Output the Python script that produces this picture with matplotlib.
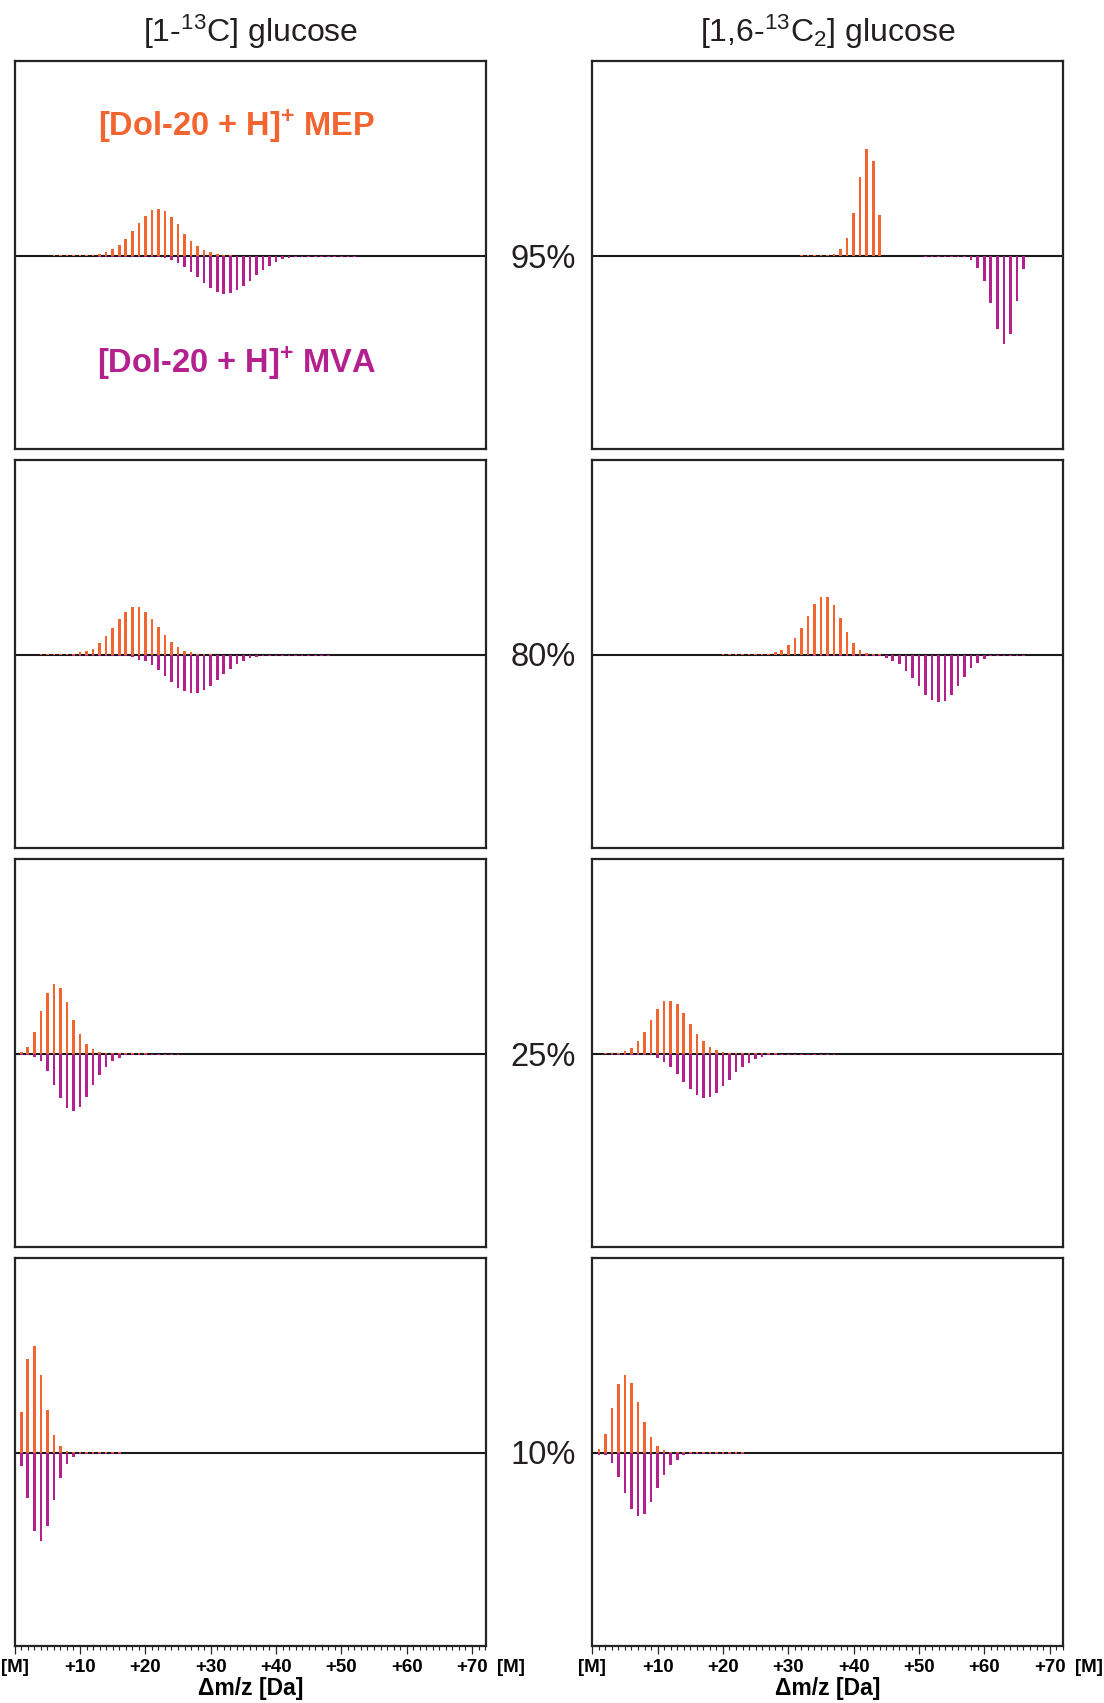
import numpy as np
import matplotlib
matplotlib.use("Agg")
import matplotlib.pyplot as plt
from matplotlib import font_manager
from matplotlib.ticker import MultipleLocator
from matplotlib.transforms import blended_transform_factory

plt.rcParams["font.family"] = ["Liberation Sans", "DejaVu Sans"]
plt.rcParams["mathtext.fontset"] = "custom"
plt.rcParams["mathtext.rm"] = "Liberation Sans"
plt.rcParams["mathtext.it"] = "Liberation Sans:italic"
plt.rcParams["mathtext.bf"] = "Liberation Sans:bold"

installed = {f.name for f in font_manager.fontManager.ttflist}
NARROW = "Liberation Sans Narrow" in installed

# ---------------------------------------------------------------------------
# Isotopologue intensities (a.u.) of [Dol-20 + H]+, upper = MEP, lower = MVA.
# Each series starts at the given Δm/z offset (Da above [M]).
# ---------------------------------------------------------------------------
columns = ["[1-$^{13}$C] glucose", "[1,6-$^{13}$C$_2$] glucose"]
enrichment = ["95%", "80%", "25%", "10%"]

# [1-13C] glucose
mep_c1_95_start = 6
mep_c1_95 = [1.0, 1.0, 1.0, 1.0, 1.0, 1.0, 1.2, 2.3, 4.0, 6.7, 10.7, 16.7, 24.7,
             33.3, 40.0, 45.7, 47.3, 45.0, 39.0, 31.7, 22.3, 15.3, 9.7, 5.7,
             3.7, 2.3, 1.2, 1.0]
mva_c1_95_start = 13
mva_c1_95 = [1.0, 1.0, 1.0, 1.0, 1.0, 1.0, 1.0, 1.0, 1.0, 1.0, 1.7, 3.7, 7.0,
             11.0, 16.0, 21.0, 26.7, 31.7, 36.0, 37.7, 37.0, 34.3, 30.0, 25.0,
             19.3, 14.3, 9.7, 6.0, 3.3, 2.0, 1.0, 1.0, 1.0, 1.0, 1.0, 1.0, 1.0,
             1.0, 1.0, 1.0]

mep_c1_80_start = 4
mep_c1_80 = [1.0, 1.0, 1.0, 1.0, 1.0, 1.2, 2.7, 3.7, 6.3, 11.7, 19.3, 27.3,
             36.3, 43.3, 48.3, 48.3, 43.3, 36.3, 28.3, 20.3, 13.3, 8.3, 4.3,
             2.7, 1.5, 1.0, 1.0]
mva_c1_80_start = 9
mva_c1_80 = [1.0, 1.0, 1.0, 1.0, 1.0, 1.0, 1.0, 1.0, 1.0, 2.3, 4.7, 6.3, 10.0,
             15.0, 21.3, 26.7, 33.0, 35.7, 37.7, 37.7, 35.0, 31.0, 25.0, 19.0,
             14.3, 9.0, 6.3, 3.0, 2.0, 1.0, 1.0, 1.0, 1.0, 1.0, 1.0, 1.0, 1.0,
             1.0, 1.0, 1.0]

mep_c1_25_start = 1
mep_c1_25 = [2.3, 7.0, 22.0, 42.7, 61.3, 70.3, 65.7, 51.7, 34.0, 20.3, 10.3,
             5.3, 2.3, 1.3, 1.0, 1.0, 1.0, 1.0, 1.0, 1.0]
mva_c1_25_start = 1
mva_c1_25 = [1.3, 1.3, 2.7, 7.3, 17.3, 30.7, 44.3, 54.0, 57.3, 53.3, 43.3,
             31.3, 20.7, 12.7, 6.7, 3.7, 1.0, 1.0, 1.0, 1.0, 1.0, 1.0, 1.0,
             1.0, 1.0]

mep_c1_10_start = 1
mep_c1_10 = [40.7, 94.0, 107.3, 78.3, 42.7, 18.3, 7.3, 2.3, 1.2, 1.0, 1.0, 1.0,
             1.0, 1.0, 1.0, 1.0]
mva_c1_10_start = 1
mva_c1_10 = [13.3, 45.0, 77.7, 87.7, 73.0, 47.0, 25.3, 11.0, 4.3, 1.0, 1.0,
             1.0, 1.0, 1.0, 1.0, 1.0]

# [1,6-13C2] glucose
mep_c16_95_start = 32
mep_c16_95 = [1.0, 1.0, 1.0, 1.0, 1.0, 2.0, 7.3, 18.0, 43.0, 78.7, 107.3, 94.7,
              41.0]
mva_c16_95_start = 51
mva_c16_95 = [1.0, 1.0, 1.0, 1.0, 1.0, 1.0, 1.0, 4.3, 11.7, 25.3, 47.0, 73.0,
              87.7, 78.0, 45.0, 13.3]

mep_c16_80_start = 20
mep_c16_80 = [1.0, 1.0, 1.0, 1.0, 1.0, 1.0, 1.0, 1.0, 3.0, 5.3, 10.0, 17.0,
              26.7, 39.0, 50.7, 57.7, 57.7, 49.7, 37.0, 22.7, 12.0, 5.0, 2.3,
              1.2, 1.0]
mva_c16_80_start = 34
mva_c16_80 = [1.0, 1.0, 1.0, 1.0, 1.0, 1.0, 1.0, 1.0, 1.0, 1.0, 1.0, 3.3, 5.7,
              9.3, 15.7, 22.7, 31.3, 39.7, 45.3, 47.3, 46.3, 40.3, 31.3, 22.3,
              13.3, 7.7, 3.7, 1.0, 1.0, 1.0, 1.0, 1.0, 1.0]

mep_c16_25_start = 2
mep_c16_25 = [1.3, 1.0, 1.0, 3.3, 6.0, 13.0, 22.0, 33.7, 44.7, 52.7, 53.3,
              49.7, 40.7, 29.7, 20.0, 13.0, 7.0, 4.0, 2.0, 1.3, 1.0, 1.0, 1.0,
              1.0, 1.0, 1.0, 1.0]
mva_c16_25_start = 3
mva_c16_25 = [1.0, 1.0, 1.0, 1.0, 1.0, 1.0, 1.0, 4.3, 7.7, 13.3, 20.3, 28.3,
              35.3, 41.3, 44.0, 43.3, 39.3, 32.3, 25.7, 18.3, 12.7, 8.7, 4.7,
              2.7, 1.0, 1.0, 1.0, 1.0, 1.0, 1.0, 1.0, 1.0, 1.0, 1.0, 1.0]

mep_c16_10_start = 1
mep_c16_10 = [4.3, 19.3, 45.0, 68.7, 78.3, 69.7, 50.7, 31.0, 16.3, 7.3, 3.3,
              1.3, 1.0, 1.0, 1.0, 1.0, 1.0, 1.0, 1.0, 1.0, 1.0, 1.0, 1.0]
mva_c16_10_start = 1
mva_c16_10 = [1.7, 2.3, 9.7, 23.7, 40.3, 56.3, 63.3, 60.7, 49.3, 35.3, 22.3,
              12.3, 6.7, 2.3, 1.0, 1.0, 1.0, 1.0, 1.0, 1.0, 1.0, 1.0, 1.0]

tick_pos = [0, 10, 20, 30, 40, 50, 60, 70]
tick_labels = ["[M]", "+10", "+20", "+30", "+40", "+50", "+60", "+70"]

panels = [
    [(mep_c1_95_start, mep_c1_95, mva_c1_95_start, mva_c1_95),
     (mep_c16_95_start, mep_c16_95, mva_c16_95_start, mva_c16_95)],
    [(mep_c1_80_start, mep_c1_80, mva_c1_80_start, mva_c1_80),
     (mep_c16_80_start, mep_c16_80, mva_c16_80_start, mva_c16_80)],
    [(mep_c1_25_start, mep_c1_25, mva_c1_25_start, mva_c1_25),
     (mep_c16_25_start, mep_c16_25, mva_c16_25_start, mva_c16_25)],
    [(mep_c1_10_start, mep_c1_10, mva_c1_10_start, mva_c1_10),
     (mep_c16_10_start, mep_c16_10, mva_c16_10_start, mva_c16_10)],
]

MEP_COLOR = "#F26430"
MVA_COLOR = "#B4208E"
EDGE = "#262324"

W, H = 1104, 1703
fig = plt.figure(figsize=(W / 100, H / 100), dpi=100)

col_x = [14.7, 592.3]
row_top = [61, 460, 859, 1258]
ax_w, ax_h = 471, 388
zero_px = [256, 654, 1053, 1452]

tick_family = (["Liberation Sans Narrow", "Liberation Sans"] if NARROW
               else ["Liberation Sans"])
tick_size = 15 if NARROW else 13.5

for r in range(4):
    for c in range(2):
        ax = fig.add_axes([col_x[c] / W, 1 - (row_top[r] + ax_h) / H,
                           ax_w / W, ax_h / H])
        s_up, up, s_dn, dn = panels[r][c]
        x_up = np.arange(s_up, s_up + len(up))
        x_dn = np.arange(s_dn, s_dn + len(dn))
        ax.axhline(0, color="#1a1a1a", lw=1.5, zorder=1)
        ax.bar(x_up, up, width=0.4, color=MEP_COLOR, linewidth=0, zorder=2)
        ax.bar(x_dn, -np.asarray(dn), width=0.4, color=MVA_COLOR,
               linewidth=0, zorder=2)
        ax.set_xlim(0, 72.1)
        ax.set_ylim(-193, 195)
        for sp in ax.spines.values():
            sp.set_linewidth(1.6)
            sp.set_color(EDGE)
        ax.set_yticks([])
        if r == 3:
            ax.set_xticks(tick_pos, labels=tick_labels, fontsize=tick_size,
                          fontweight="bold", fontfamily=tick_family)
            ax.xaxis.set_minor_locator(MultipleLocator(1))
            ax.tick_params(axis="x", which="major", direction="out",
                           length=6.0, width=0.9, color=EDGE, pad=3.0)
            ax.tick_params(axis="x", which="minor", direction="out",
                           length=3.0, width=0.8, color=EDGE)
            trans = blended_transform_factory(ax.transData, ax.transAxes)
            ax.text(76, -0.0347, "[M]", transform=trans, ha="center",
                    va="top", fontfamily=tick_family, fontweight="bold",
                    fontsize=tick_size, clip_on=False)
            ax.set_xlabel("Δm/z [Da]", fontsize=16.5, fontweight="bold",
                          labelpad=1)
        else:
            ax.set_xticks([])
        if r == 0 and c == 0:
            ax.text(0.472, 0.807, r"[Dol-20 + H]$^{\mathbf{+}}$ MEP",
                    transform=ax.transAxes, ha="center", va="baseline",
                    color=MEP_COLOR, fontsize=23.5, fontweight="bold")
            ax.text(0.472, 0.196, r"[Dol-20 + H]$^{\mathbf{+}}$ MVA",
                    transform=ax.transAxes, ha="center", va="baseline",
                    color=MVA_COLOR, fontsize=23.5, fontweight="bold")

    fig.text(543 / W, 1 - (zero_px[r] + 4) / H, enrichment[r], ha="center",
             va="center", fontsize=23.5, color="#231f20")

for c, title in enumerate(columns):
    fig.text((col_x[c] + ax_w / 2) / W, 1 - 32 / H, title, ha="center",
             va="center", fontsize=23, color="#231f20")

fig.savefig("out.png", dpi=100)
